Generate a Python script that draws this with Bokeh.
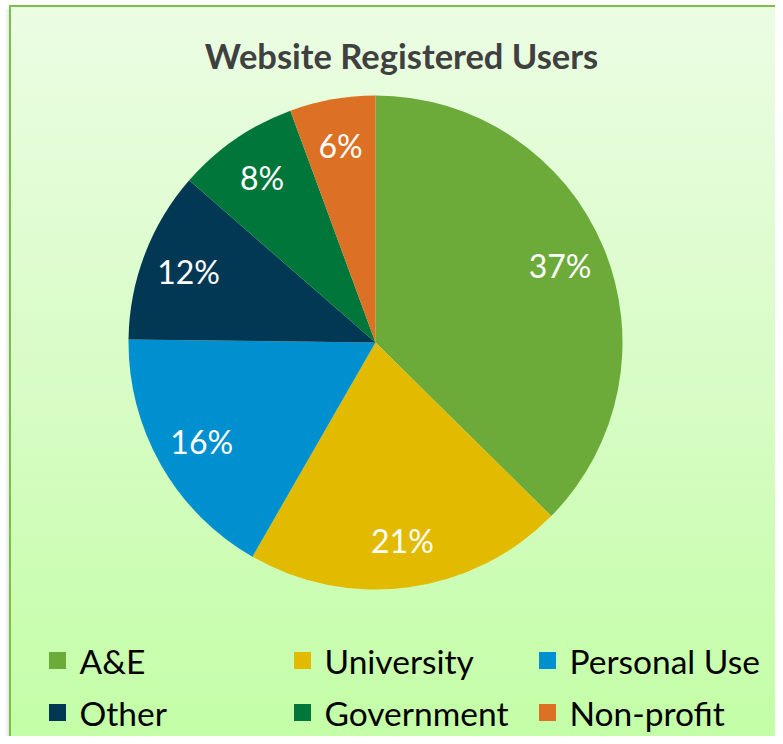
import numpy as np
from bokeh.plotting import figure
from bokeh.models import Range1d, ColumnDataSource
from bokeh.core.properties import value
from bokeh.embed import file_html
from bokeh.resources import INLINE

# ---- data ----
title = "Website Registered Users"
categories = ["A&E", "University", "Personal Use", "Other", "Government", "Non-profit"]
shares = [37.4, 20.9, 16.9, 11.2, 8.0, 5.6]
pct_labels = ["37%", "21%", "16%", "12%", "8%", "6%"]
colors = ["#6cab3a", "#e2ba00", "#0090cf", "#023853", "#00763a", "#dc7125"]

W, H = 775, 736
p = figure(width=W, height=H, output_backend="svg", toolbar_location=None,
           x_range=Range1d(0, W), y_range=Range1d(0, H),
           min_border=0, tools="")
p.axis.visible = False
p.grid.visible = False
p.outline_line_color = None
p.background_fill_alpha = 0
p.border_fill_alpha = 0
border = "linear-gradient(#7ac143, #7ac143)"
p.styles = {
    "background": (
        f"{border} 9px 5px / 2px 100% no-repeat, "
        f"{border} 9px 5px / 100% 2px no-repeat, "
        "linear-gradient(to bottom, #ebfde3 0%, #d8fcc6 50%, #c3fea6 100%) 11px 7px / 100% 100% no-repeat, "
        "linear-gradient(to right, #ffffff, #e4e4e4) 5px 9px / 4px 100% no-repeat, "
        "#ffffff"
    )
}

# ---- pie ----
cx, cy, R = 375, 394, 247
vals = np.array(shares, dtype=float)
frac = vals / vals.sum()
cum = np.concatenate([[0], np.cumsum(frac)])
start = np.pi / 2 - 2 * np.pi * cum[1:]
end = np.pi / 2 - 2 * np.pi * cum[:-1]
mid = (start + end) / 2
src = ColumnDataSource(dict(x=[cx] * len(vals), y=[cy] * len(vals), start=start, end=end,
                            color=colors, cat=categories))
p.wedge(x="x", y="y", radius=R, start_angle="start", end_angle="end",
        fill_color="color", line_color=None, source=src)

lr = 0.81 * R
p.text(x=cx + lr * np.cos(mid), y=cy + lr * np.sin(mid), text=pct_labels,
       text_color="white", text_font=value("Lato"), text_font_size="32px",
       text_align="center", text_baseline="middle")

# ---- title ----
p.text(x=[401], y=[681], text=[title], text_color="#404040", text_font=value("Lato"),
       text_font_style="bold", text_font_size="34.5px", text_align="center", text_baseline="middle")

# ---- legend ----
col_x = [57, 302, 547]
row_y = [76, 24]
lx = [col_x[i % 3] for i in range(len(categories))]
ly = [row_y[i // 3] for i in range(len(categories))]
p.scatter(x=lx, y=ly, marker="square", size=17, fill_color=colors, line_color=None)
p.text(x=[v + 22 for v in lx], y=ly, text=categories, text_color="black",
       text_font=value("Lato"), text_font_size="33.5px", text_align="left", text_baseline="middle")

open("out.html", "w").write(file_html(p, INLINE))
